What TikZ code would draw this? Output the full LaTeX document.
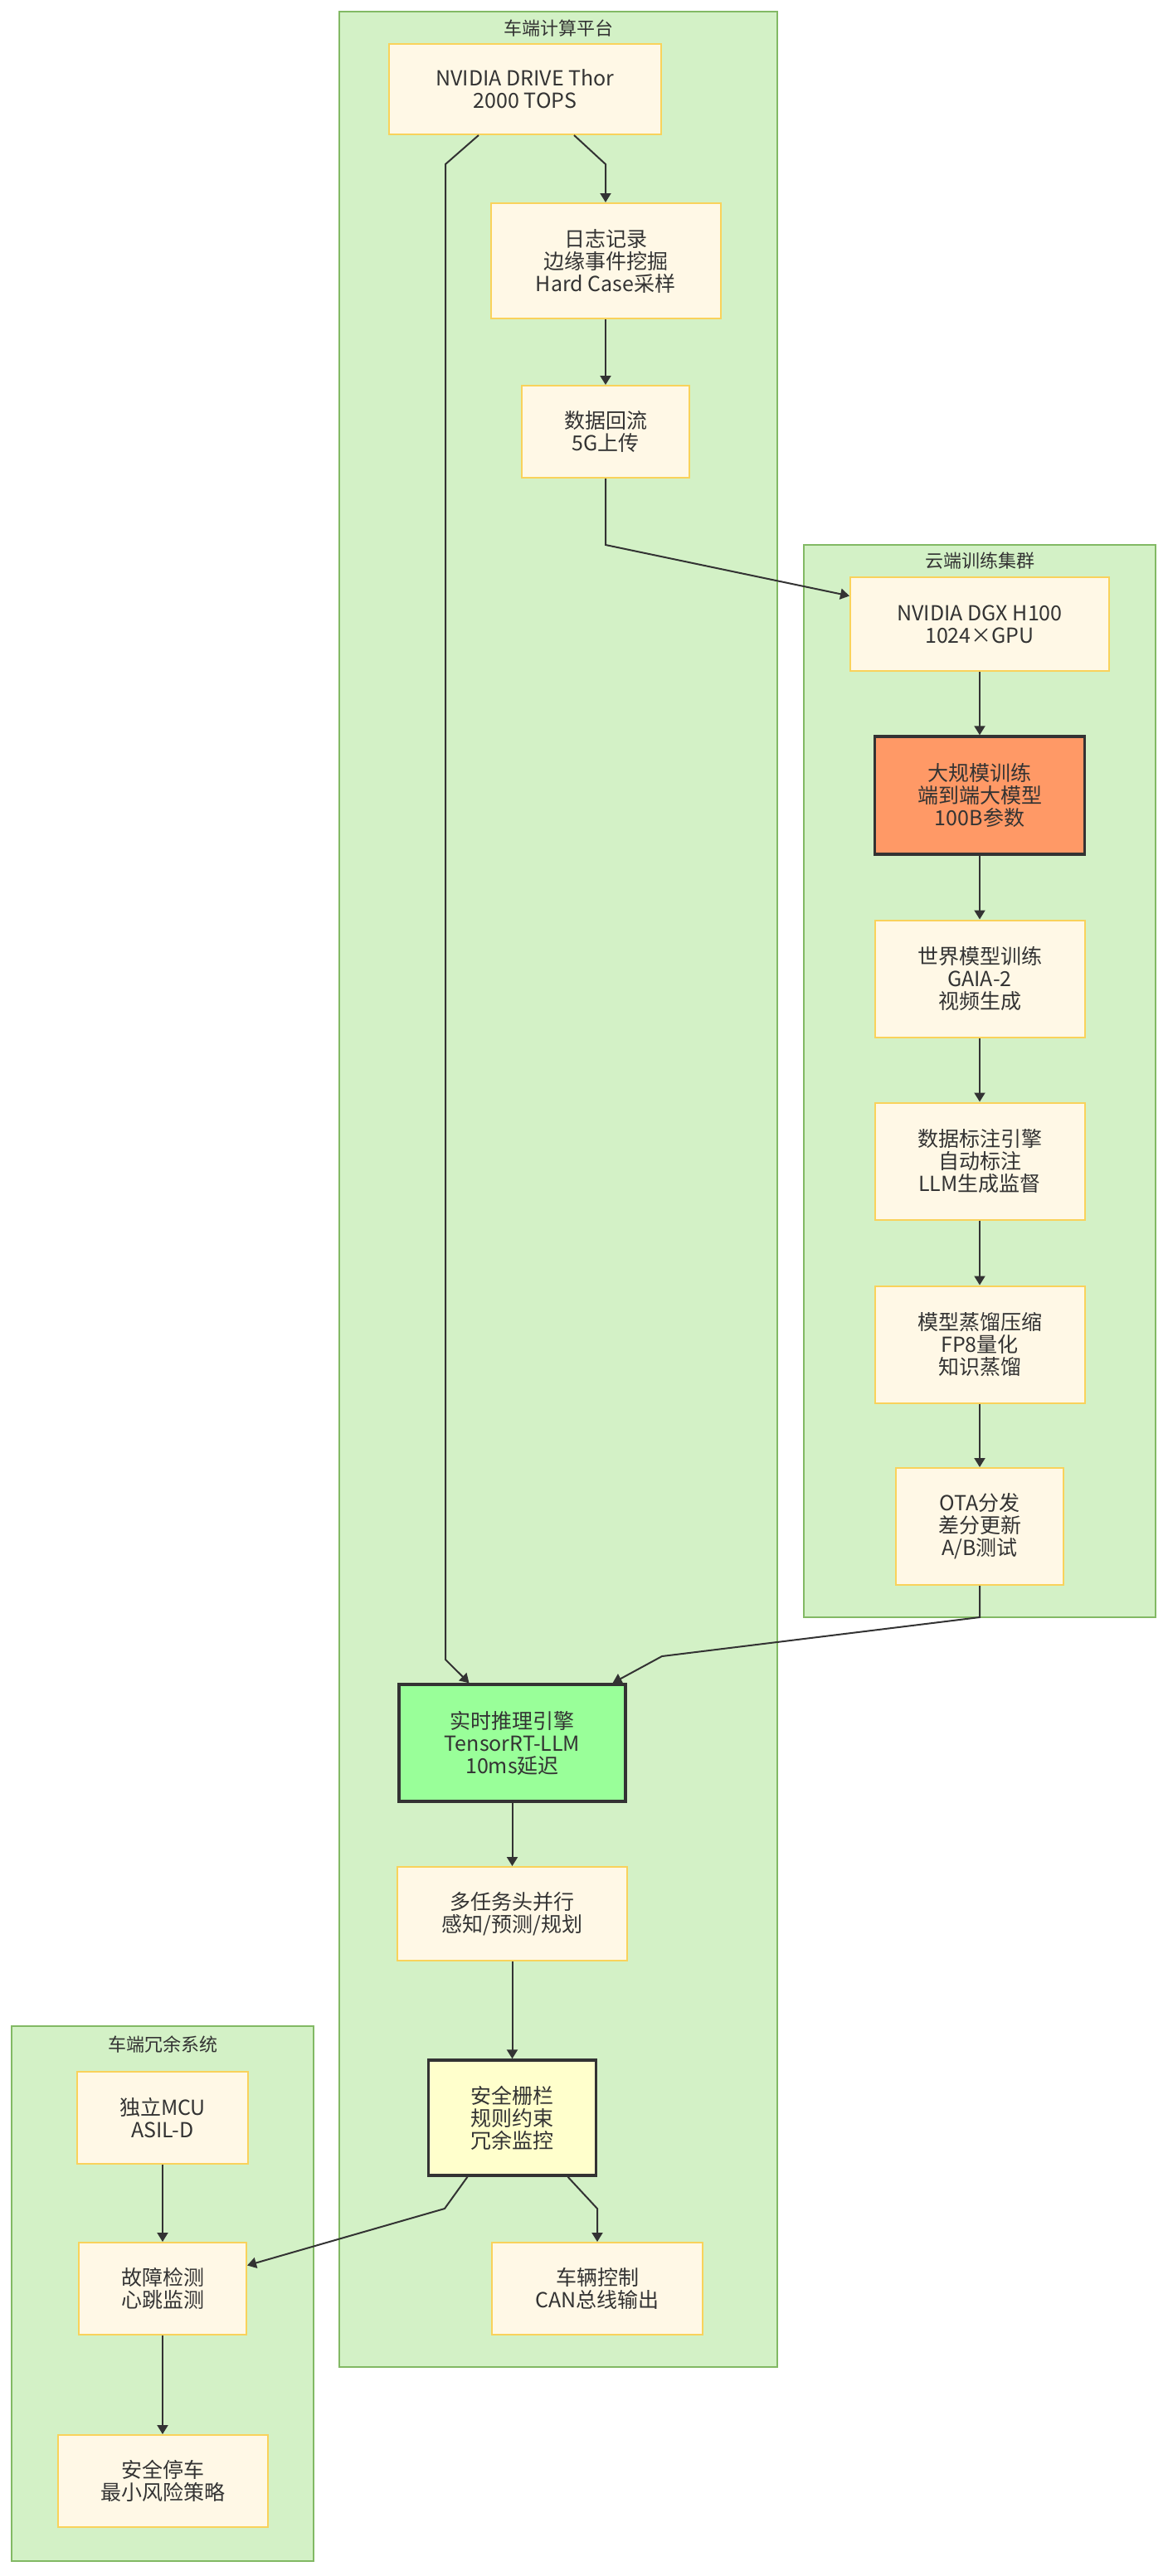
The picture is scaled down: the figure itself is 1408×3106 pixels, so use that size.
\documentclass[tikz,border=0pt]{standalone}
\usepackage{fontspec}
\setmainfont{Noto Sans CJK SC}
\usetikzlibrary{arrows.meta}

\definecolor{groupfill}{HTML}{D3F1C6}
\definecolor{groupline}{HTML}{82B964}
\definecolor{boxfill}{HTML}{FFF8E6}
\definecolor{boxline}{HTML}{F9D25B}
\definecolor{textdark}{HTML}{333333}
\definecolor{trainfill}{HTML}{FF9966}
\definecolor{inferfill}{HTML}{99FF99}
\definecolor{fencefill}{HTML}{FFFFCC}

\tikzset{
  group/.style={draw=groupline, fill=groupfill, line width=1pt},
  grouptitle/.style={font=\fontsize{11pt}{13pt}\selectfont, text=textdark},
  box/.style={draw=boxline, fill=boxfill, line width=1pt, align=center,
    inner sep=0pt, text=textdark, font=\fontsize{12.5pt}{13.5pt}\selectfont},
  keybox/.style={box, draw=textdark, line width=1.7pt},
  flow/.style={draw=textdark, line width=1pt, -{Triangle[length=5.5pt,width=6.5pt]}},
}

\begin{document}
\begin{tikzpicture}[x=0.5pt,y=-0.5pt]
        \useasboundingbox (0,0) rectangle (1408,3106);
        % groups
        \draw[group] (409,14) rectangle (937,2854);
        \draw[group] (969,657) rectangle (1393,1950);
        \draw[group] (14,2443) rectangle (378,3088);
        \node[grouptitle] (cartitle) at (673,34) {车端计算平台};
        \node[grouptitle] (cloudtitle) at (1181,676) {云端训练集群};
        \node[grouptitle] (backuptitle) at (196,2465) {车端冗余系统};

        % car side
        \node[box, minimum width=164pt, minimum height=54.5pt] (thor) at (633,107.5) {NVIDIA DRIVE Thor\\2000 TOPS};
        \node[box, minimum width=138.5pt, minimum height=69.5pt] (log) at (730,314.5) {日志记录\\边缘事件挖掘\\Hard Case采样};
        \node[box, minimum width=101pt, minimum height=55.5pt] (upload) at (730,520.5) {数据回流\\5G上传};
        \node[keybox, fill=inferfill, minimum width=136.5pt, minimum height=70.5pt] (infer) at (617.5,2101.5) {实时推理引擎\\TensorRT-LLM\\10ms延迟};
        \node[box, minimum width=138.5pt, minimum height=56.5pt] (multi) at (617.5,2307.5) {多任务头并行\\感知/预测/规划};
        \node[keybox, fill=fencefill, minimum width=101pt, minimum height=69.5pt] (fence) at (617.5,2553.5) {安全栅栏\\规则约束\\冗余监控};
        \node[box, minimum width=127pt, minimum height=55.5pt] (ctrl) at (720,2759.5) {车辆控制\\CAN总线输出};

        % cloud side
        \node[box, minimum width=156pt, minimum height=56.5pt] (dgx) at (1181,752.5) {NVIDIA DGX H100\\1024×GPU};
        \node[keybox, fill=trainfill, minimum width=126.5pt, minimum height=71pt] (train) at (1181,959) {大规模训练\\端到端大模型\\100B参数};
        \node[box, minimum width=126.5pt, minimum height=70.5pt] (world) at (1181,1180) {世界模型训练\\GAIA-2\\视频生成};
        \node[box, minimum width=126.5pt, minimum height=70.5pt] (label) at (1181,1400) {数据标注引擎\\自动标注\\LLM生成监督};
        \node[box, minimum width=126.5pt, minimum height=70.5pt] (distill) at (1181,1621) {模型蒸馏压缩\\FP8量化\\知识蒸馏};
        \node[box, minimum width=101pt, minimum height=70.5pt] (ota) at (1181,1840.5) {OTA分发\\差分更新\\A/B测试};

        % backup side
        \node[box, minimum width=103pt, minimum height=55.5pt] (mcu) at (196,2553.5) {独立MCU\\ASIL-D};
        \node[box, minimum width=101pt, minimum height=55.5pt] (fault) at (196,2759.5) {故障检测\\心跳监测};
        \node[box, minimum width=126.5pt, minimum height=55.5pt] (stop) at (196,2991.5) {安全停车\\最小风险策略};

        % flows
        \draw[flow] ([xshift=29.5pt]thor.south) -- (730,198) -- (log.north);
        \draw[flow] (log) -- (upload);
        \draw[flow] (upload.south) -- (730,657) -- ([yshift=17pt]dgx.west);
        \draw[flow] (dgx) -- (train);
        \draw[flow] (train) -- (world);
        \draw[flow] (world) -- (label);
        \draw[flow] (label) -- (distill);
        \draw[flow] (distill) -- (ota);
        \draw[flow] ([xshift=-28pt]thor.south) -- (537,198) -- (537,2001) -- ([xshift=-26pt]infer.north);
        \draw[flow] (ota.south) -- (1181,1950) -- (798,1997) -- ([xshift=60.5pt]infer.north);
        \draw[flow] (infer) -- (multi);
        \draw[flow] (multi) -- (fence);
        \draw[flow] ([xshift=33.5pt]fence.south) -- (720,2663) -- (ctrl.north);
        \draw[flow] ([xshift=-27pt]fence.south) -- (536,2663) -- ([yshift=14pt]fault.east);
        \draw[flow] (mcu) -- (fault);
        \draw[flow] (fault) -- (stop);
    \end{tikzpicture}
\end{document}
